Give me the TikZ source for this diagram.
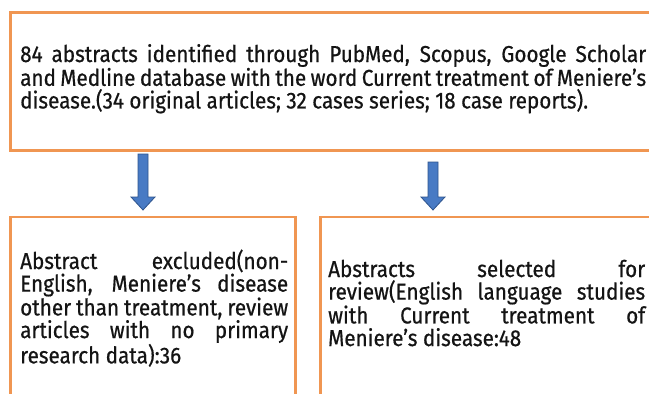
\documentclass[tikz,border=0pt]{standalone}
\usepackage{fontspec}
\usetikzlibrary{calc}
\setmainfont{Fira Sans}[FakeStretch=0.9,FakeBold=0.6]
\definecolor{boxorange}{RGB}{240,150,82}
\definecolor{arrfill}{RGB}{72,122,196}
\definecolor{arrline}{RGB}{46,84,140}
\definecolor{txt}{RGB}{20,20,20}
\hbadness=10000
\hyphenpenalty=10000
\exhyphenpenalty=10000
\begin{document}
\begin{tikzpicture}[x=1pt,y=-1pt,
  frame/.style={draw=boxorange, line width=2.5pt, rectangle, inner sep=0pt, anchor=north west},
  body/.style={anchor=base west, inner sep=0pt, align=justify, text=txt,
    font=\fontsize{23}{22.6}\selectfont},
  blockarrow/.style={fill=arrfill, draw=arrline, line width=0.8pt, line join=miter}]
\useasboundingbox (0,0) rectangle (649,394);
\clip (0,0) rectangle (649,394);
\fill[white] (0,0) rectangle (649,394);
% boxes
\node[frame, minimum width=700pt, minimum height=138pt] (top) at (9,11) {};
\node[frame, minimum width=285pt, minimum height=220pt] (left) at (9,215.5) {};
\node[frame, minimum width=400pt, minimum height=220pt] (right) at (319,215.5) {};
% texts
\node[body, text width=626pt] (ttop) at (20,62)
 {84 abstracts identified through PubMed, Scopus, Google Scholar\linebreak
  and Medline database with the word Current treatment of Meniere's\linebreak
  disease.(34 original articles; 32 cases series; 18 case reports).};
\node[body, text width=268pt] (tleft) at (20,269)
 {Abstract excluded(non-\linebreak English, Meniere's disease\linebreak
  other than treatment, review\linebreak articles with no primary\linebreak
  research data):36};
\node[body, text width=317pt] (tright) at (328,277)
 {Abstracts selected for\linebreak review(English language studies\linebreak
  with Current treatment of\linebreak Meniere's disease:48};
% arrows
\coordinate (a1) at (143,154);
\coordinate (a2) at (433,162);
\draw[blockarrow] ($(a1)+(-5,0)$) -- ($(a1)+(5,0)$) -- (148,197) -- (155,197) -- (143,210)
  -- (131,197) -- (138,197) -- cycle;
\draw[blockarrow] ($(a2)+(-5,0)$) -- ($(a2)+(5,0)$) -- (438,197) -- (445,197) -- (433,210)
  -- (421,197) -- (428,197) -- cycle;
\end{tikzpicture}
\end{document}
